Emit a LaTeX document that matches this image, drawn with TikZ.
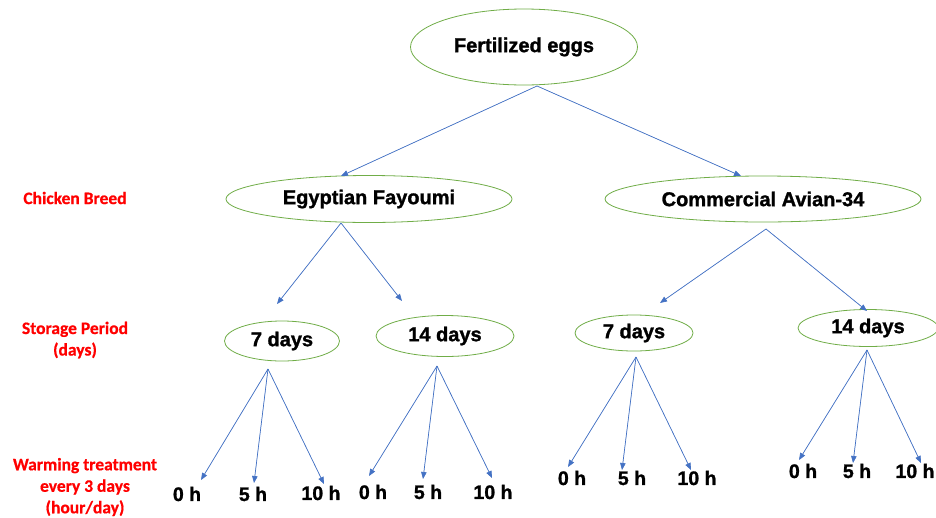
\documentclass[tikz,border=0pt]{standalone}
\usepackage{fontspec}
\setmainfont{Liberation Sans}[BoldFeatures={FakeBold=1.3}]
\newfontfamily\labfont{Carlito}[BoldFeatures={FakeBold=0.6}]
\usetikzlibrary{shapes.geometric,arrows.meta}
\definecolor{arrblue}{RGB}{68,114,196}
\definecolor{ellgreen}{RGB}{112,173,71}
\definecolor{labred}{RGB}{255,0,0}
\begin{document}
\begin{tikzpicture}[x=1pt,y=-1pt,
  ell/.style={ellipse,draw=ellgreen,line width=0.8pt,inner sep=0pt,font=\fontsize{20}{22}\selectfont\bfseries},
  leaf/.style={inner sep=0pt,font=\fontsize{19.5}{21}\selectfont\bfseries},
  lab/.style={inner sep=0pt,align=center,text=labred,font=\labfont\fontsize{17.5}{21.5}\selectfont\bfseries},
  arr/.style={draw=arrblue,line width=0.7pt,-{Triangle[length=7pt,width=5.5pt]},fill=arrblue}]
\useasboundingbox (0,0) rectangle (936,517);
\fill[white] (0,0) rectangle (936,517);

% nodes
\node[ell,minimum width=227pt,minimum height=76pt] (egg) at (524,47) {Fertilized eggs};
\node[ell,minimum width=286pt,minimum height=47pt] (ef) at (369,199) {Egyptian Fayoumi};
\node[ell,minimum width=316pt,minimum height=46pt] (ca) at (763,199) {Commercial Avian-34};
\node[ell,minimum width=115pt,minimum height=40pt] (ef7) at (282,341) {7 days};
\node[ell,minimum width=138pt,minimum height=41pt] (ef14) at (445,336) {14 days};
\node[ell,minimum width=118pt,minimum height=36pt] (ca7) at (634,333) {7 days};
\node[ell,minimum width=140pt,minimum height=37pt] (ca14) at (868,328) {14 days};

% leaves
\node[leaf] (a0) at (187,494) {0 h};
\node[leaf] (a5) at (253,494) {5 h};
\node[leaf] (a10) at (321,493) {10 h};
\node[leaf] (b0) at (373,492) {0 h};
\node[leaf] (b5) at (428,492) {5 h};
\node[leaf] (b10) at (493,492) {10 h};
\node[leaf] (c0) at (572,478) {0 h};
\node[leaf] (c5) at (632,478) {5 h};
\node[leaf] (c10) at (697,478) {10 h};
\node[leaf] (d0) at (803,471) {0 h};
\node[leaf] (d5) at (857,471) {5 h};
\node[leaf] (d10) at (915,471) {10 h};

% red labels
\node[lab] (lbreed) at (75,198) {Chicken Breed};
\node[lab] (lstore) at (75,340) {Storage Period\\(days)};
\node[lab] (lwarm) at (85,487) {Warming treatment\\every 3 days\\(hour/day)};

% connector points
\coordinate (egg-o) at (537,86);
\coordinate (ef-i) at (341,176);
\coordinate (ca-i) at (741,176);
\coordinate (ef-o) at (341,223);
\coordinate (ef7-i) at (277,304);
\coordinate (ef14-i) at (402,301);
\coordinate (ca-o) at (766,229);
\coordinate (ca7-i) at (660,303);
\coordinate (ca14-i) at (867,311);
\coordinate (ef7-o) at (268,369);
\coordinate (a0-i) at (201,480);
\coordinate (a5-i) at (254,483);
\coordinate (a10-i) at (324,484);
\coordinate (ef14-o) at (437,366);
\coordinate (b0-i) at (369,476);
\coordinate (b5-i) at (423,479);
\coordinate (b10-i) at (492,478);
\coordinate (ca7-o) at (636,357);
\coordinate (c0-i) at (568,467);
\coordinate (c5-i) at (622,470);
\coordinate (c10-i) at (691,470);
\coordinate (ca14-o) at (867,350);
\coordinate (d0-i) at (799,460);
\coordinate (d5-i) at (853,463);
\coordinate (d10-i) at (921,463);

% connectors
\draw[arr] (egg-o) -- (ef-i);
\draw[arr] (egg-o) -- (ca-i);
\draw[arr] (ef-o) -- (ef7-i);
\draw[arr] (ef-o) -- (ef14-i);
\draw[arr] (ca-o) -- (ca7-i);
\draw[arr] (ca-o) -- (ca14-i);
\draw[arr] (ef7-o) -- (a0-i);
\draw[arr] (ef7-o) -- (a5-i);
\draw[arr] (ef7-o) -- (a10-i);
\draw[arr] (ef14-o) -- (b0-i);
\draw[arr] (ef14-o) -- (b5-i);
\draw[arr] (ef14-o) -- (b10-i);
\draw[arr] (ca7-o) -- (c0-i);
\draw[arr] (ca7-o) -- (c5-i);
\draw[arr] (ca7-o) -- (c10-i);
\draw[arr] (ca14-o) -- (d0-i);
\draw[arr] (ca14-o) -- (d5-i);
\draw[arr] (ca14-o) -- (d10-i);
\end{tikzpicture}
\end{document}
